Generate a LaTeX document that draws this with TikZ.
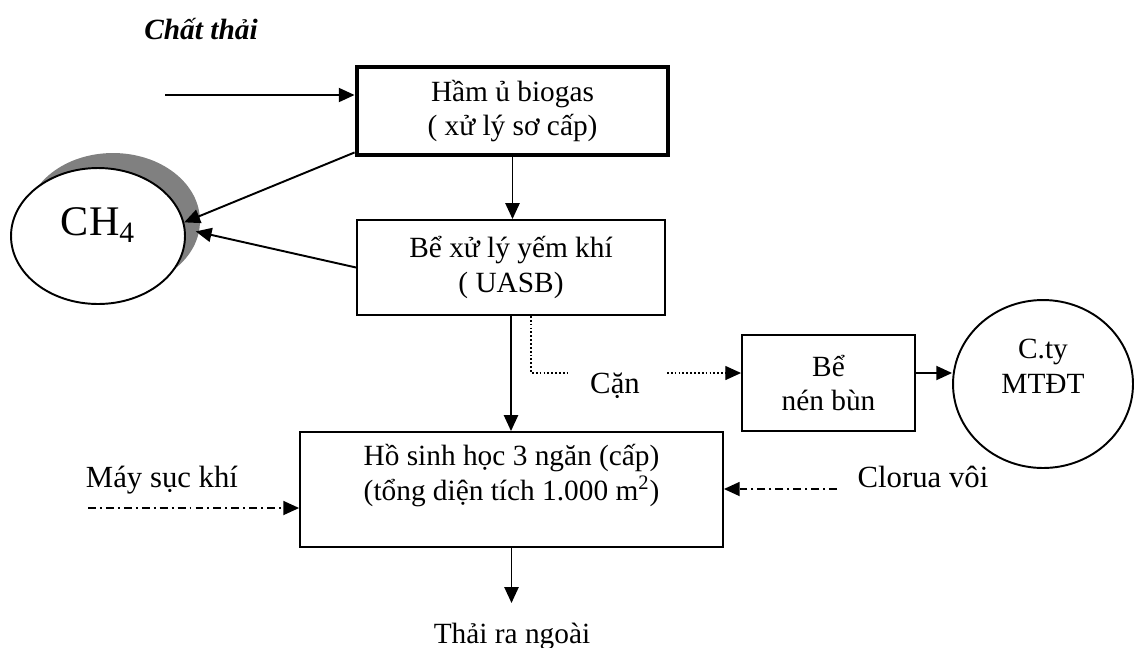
\documentclass[tikz,border=0pt]{standalone}
\usepackage{fontspec}
\setmainfont{Liberation Serif}
\usetikzlibrary{arrows.meta,shapes.geometric,shadows}
\tikzstyle{box}=[draw, line width=1.1pt, align=center, inner sep=0pt, font=\fontsize{16.7}{19.8}\selectfont]
\tikzstyle{oval}=[ellipse, draw, line width=1.1pt, fill=white, align=center, inner sep=0pt]
\tikzstyle{lbl}=[anchor=base, inner sep=0pt, font=\fontsize{17.5}{21}\selectfont]
\tikzstyle{flow}=[-{Triangle[length=9pt,width=8pt]}, line width=1.1pt]
\tikzstyle{sludge}=[line width=0.8pt, dash pattern=on 1pt off 1.2pt]
\tikzstyle{dosing}=[line width=0.9pt, dash pattern=on 4.5pt off 2.3pt on 1.1pt off 2.3pt]

\begin{document}
\begin{tikzpicture}[x=0.02cm, y=-0.02cm]
\useasboundingbox (0,0) rectangle (1135,647);

\node[box, line width=2.8pt, minimum width=6.22cm, minimum height=1.76cm] (biogas) at (512.5,111) {Hầm ủ biogas\\( xử lý sơ cấp)};
\node[box, minimum width=6.16cm, minimum height=1.9cm] (uasb) at (511,267.5) {Bể xử lý yếm khí\\( UASB)};
\node[box, minimum width=8.46cm, minimum height=2.3cm] (ho) at (511.5,489.5) {Hồ sinh học 3 ngăn (cấp)\\(tổng diện tích 1.000 m\textsuperscript{2})\\\mbox{}};
\node[box, minimum width=3.46cm, minimum height=1.92cm] (nen) at (828.5,383) {Bể\\nén bùn};
\node[oval, minimum width=3.6cm, minimum height=3.36cm, font=\fontsize{16.7}{19.8}\selectfont] (cty) at (1043,384) {C.ty\\MTĐT\\\mbox{}};
\node[oval, minimum width=3.48cm, minimum height=2.72cm, font=\fontsize{24}{28}\selectfont,
      general shadow={fill=gray, shadow xshift=0.3cm, shadow yshift=0.3cm}] (ch4) at (98,236) {\raisebox{0.56cm}{CH\textsubscript{4}}};

\node[anchor=base, inner sep=0pt, font=\bfseries\itshape\fontsize{16.7}{20}\selectfont] (waste) at (201,39) {Chất thải};
\node[lbl] (can) at (615,393) {Cặn};
\node[lbl] (may) at (162,487) {Máy sục khí};
\node[lbl] (clo) at (923,487) {Clorua vôi};
\node[anchor=base, inner sep=0pt, font=\fontsize{16.7}{19.8}\selectfont] (thai) at (512,643) {Thải ra ngoài};

\coordinate (in) at (165,95);
\coordinate (canL) at (567,373);
\coordinate (canR) at (667,373);
\coordinate (mayL) at (88,508);
\coordinate (cloR) at (837,489);
\coordinate (out) at (512,603);

\draw[flow] (in) -- (in -| biogas.west);
\draw[flow] ([yshift=0.1cm]biogas.south west) -- (ch4.9);
\draw[flow] (uasb.west) -- ([xshift=0.2cm]ch4.3);
\draw[flow] (biogas.south) -- (biogas.south |- uasb.north);
\draw[flow] (uasb.south) -- (uasb.south |- ho.north);
\draw[sludge] ([xshift=0.4cm]uasb.south) |- (canL);
\draw[flow, sludge] (canR) -- (canR -| nen.west);
\draw[flow] (canR -| nen.east) -- (canR -| cty.west);
\draw[flow, dosing] (mayL) -- (mayL -| ho.west);
\draw[flow, dosing] (cloR) -- (cloR -| ho.east);
\draw[flow] (ho.south) -- (ho.south |- out);

\end{tikzpicture}
\end{document}
